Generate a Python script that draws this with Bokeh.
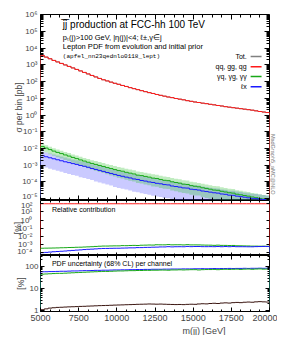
import math
from bokeh.plotting import figure
from bokeh.models import (Range1d, FixedTicker, LogAxis, LinearAxis, Label, Title,
                          BoxAnnotation, CustomJSTickFormatter)
from bokeh.layouts import column
from bokeh.embed import file_html
from bokeh.resources import INLINE

FONT = "Liberation Sans"

# ---------------- data ----------------
m_edges = [5000 + 250 * i for i in range(61)]          # bin edges, GeV
x_ticks = [5000, 7500, 10000, 12500, 15000, 17500, 20000]

# sigma per bin [pb]
qq = [3720, 2950, 2340, 1860, 1510, 1230, 1000, 813, 661, 537,
      437, 355, 288, 234, 191, 155, 129, 110, 93.3, 79.4,
      69.2, 58.9, 51.3, 43.7, 38.0, 33.1, 28.8, 25.1, 21.9, 19.5,
      17.0, 15.1, 13.5, 12.0, 11.0, 9.77, 8.91, 8.13, 7.24, 6.61,
      6.03, 5.62, 5.13, 4.79, 4.37, 4.07, 3.72, 3.47, 3.16, 2.95,
      2.75, 2.57, 2.40, 2.24, 2.09, 1.95, 1.78, 1.62, 1.51, 1.41]
gq = [0.0129, 0.0105, 0.0085, 0.0069, 0.00575, 0.0049, 0.00407, 0.00347,
      0.00288, 0.00245, 0.00204, 0.00174, 0.00148, 0.00126, 0.0011, 0.00095,
      8.3e-4, 7.1e-4, 6.2e-4, 5.4e-4, 4.7e-4, 4.3e-4, 3.7e-4, 3.3e-4,
      2.95e-4, 2.5e-4, 2.35e-4, 2.1e-4, 1.9e-4, 1.66e-4, 1.58e-4, 1.38e-4,
      1.23e-4, 1.17e-4, 1.0e-4, 9.1e-5, 8.3e-5, 7.2e-5, 6.9e-5, 5.9e-5,
      5.4e-5, 5.0e-5, 4.4e-5, 4.0e-5, 3.6e-5, 3.2e-5, 3.1e-5, 2.7e-5,
      2.45e-5, 2.2e-5, 2.1e-5, 1.8e-5, 1.66e-5, 1.5e-5, 1.38e-5, 1.23e-5,
      1.12e-5, 1.0e-5, 9.3e-6, 8.5e-6]
lx = [3.7e-3, 3.16e-3, 2.75e-3, 2.4e-3, 2.09e-3, 1.82e-3, 1.58e-3, 1.41e-3,
      1.23e-3, 1.1e-3, 9.5e-4, 8.5e-4, 7.4e-4, 6.3e-4, 5.5e-4, 4.8e-4,
      4.2e-4, 3.6e-4, 3.16e-4, 2.75e-4, 2.4e-4, 2.14e-4, 1.9e-4, 1.7e-4,
      1.48e-4, 1.38e-4, 1.2e-4, 1.1e-4, 9.8e-5, 9.1e-5, 8.1e-5, 7.6e-5,
      6.8e-5, 6.5e-5, 5.6e-5, 5.2e-5, 4.8e-5, 4.3e-5, 4.2e-5, 3.6e-5,
      3.4e-5, 3.2e-5, 2.8e-5, 2.6e-5, 2.4e-5, 2.2e-5, 2.1e-5, 1.86e-5,
      1.78e-5, 1.58e-5, 1.55e-5, 1.38e-5, 1.29e-5, 1.2e-5, 1.1e-5, 1.02e-5,
      9.8e-6, 9.1e-6, 8.7e-6, 8.1e-6]

# PDF uncertainty (68% CL) [%]
tot_unc = [1.1, 1.2, 1.3, 1.35, 1.4, 1.42, 1.45, 1.48, 1.5, 1.52,
           1.55, 1.57, 1.6, 1.62, 1.65, 1.68, 1.7, 1.72, 1.75, 1.78,
           1.8, 1.82, 1.85, 1.87, 1.9, 1.93, 1.95, 1.97, 2.0, 1.98,
           1.96, 1.98, 1.95, 1.92, 1.9, 1.88, 1.9, 1.87, 1.92, 1.95,
           1.93, 2.0, 2.05, 2.02, 2.1, 2.15, 2.1, 2.2, 2.25, 2.2,
           2.3, 2.35, 2.3, 2.4, 2.45, 2.4, 2.5, 2.55, 2.5, 2.45]
gq_unc = [45, 46, 47, 48, 49, 49, 50, 51, 52, 53, 54, 55, 56, 57, 58, 59,
          60, 60, 61, 62, 63, 63, 64, 65, 65, 66, 66, 67, 67, 68, 68, 69,
          69, 68, 70, 70, 71, 70, 71, 72, 72, 70, 72, 73, 73, 74, 72, 74,
          75, 74, 75, 76, 74, 76, 77, 75, 77, 78, 76, 77]
lx_unc = [58, 58, 59, 59, 60, 61, 61, 62, 63, 63, 64, 65, 65, 66, 67, 67,
          68, 68, 69, 70, 70, 71, 71, 72, 72, 73, 73, 74, 74, 75, 75, 75,
          76, 76, 77, 77, 77, 78, 78, 78, 79, 79, 80, 79, 80, 81, 80, 81,
          81, 82, 81, 82, 82, 83, 82, 83, 83, 84, 83, 84]
# half-width of the l-x band drawn in the cross-section panel [%]
lx_band = [77, 77, 78, 78, 78, 78, 79, 79, 79, 79, 80, 80, 80, 80, 81, 81,
           81, 81, 81, 82, 82, 82, 82, 82, 83, 83, 83, 83, 83, 84, 84, 84,
           84, 84, 84, 85, 85, 85, 85, 85, 85, 86, 86, 86, 86, 86, 86, 86,
           87, 87, 87, 87, 87, 87, 87, 88, 88, 88, 88, 88]

RED, GREEN, BLUE, GREY = "#ff1a1a", "#18a818", "#1a1aff", "#808080"

tot = [a + b + c for a, b, c in zip(qq, gq, lx)]
rel_qq = [100 * a / t for a, t in zip(qq, tot)]
rel_gq = [100 * a / t for a, t in zip(gq, tot)]
rel_lx = [100 * a / t for a, t in zip(lx, tot)]


def outline(vals, floor):
    xs, ys = [m_edges[0]], [floor]
    for i, v in enumerate(vals):
        xs += [m_edges[i], m_edges[i + 1]]
        ys += [v, v]
    xs.append(m_edges[-1]); ys.append(floor)
    return xs, ys


def band(vals, unc):
    xs, lo, hi = [], [], []
    for i, (v, u) in enumerate(zip(vals, unc)):
        xs += [m_edges[i], m_edges[i + 1]]
        lo += [v * (1 - u / 100.0)] * 2
        hi += [v * (1 + u / 100.0)] * 2
    return xs, lo, hi


SUP = CustomJSTickFormatter(code="""
const s = {'0':'\u2070','1':'\u00b9','2':'\u00b2','3':'\u00b3','4':'\u2074','5':'\u2075',
           '6':'\u2076','7':'\u2077','8':'\u2078','9':'\u2079','-':'\u207b'};
const e = Math.round(Math.log10(tick));
return '10' + String(e).split('').map(c => s[c]).join('');
""")
PLAIN = CustomJSTickFormatter(code="return String(Math.round(tick));")
EMPTY = CustomJSTickFormatter(code="return '';")

x_range = Range1d(5000, 20000)
x_minor = [5000 + 625 * k for k in range(25)]


def make_fig(h, yr, top, bottom):
    p = figure(width=277, height=h, x_range=x_range, y_range=yr, y_axis_type="log",
               x_axis_location=None, y_axis_location=None,
               output_backend="svg", toolbar_location=None,
               min_border_left=40, min_border_right=6,
               min_border_top=top, min_border_bottom=bottom)
    p.xgrid.visible = False
    p.ygrid.visible = False
    p.outline_line_color = "black"
    p.outline_line_width = 1
    p.background_fill_color = "white"
    p.border_fill_color = "white"
    return p


def tick_style(ax, tin, tmin):
    ax.major_tick_in = tin; ax.major_tick_out = 0
    ax.minor_tick_in = tmin; ax.minor_tick_out = 0
    ax.axis_line_color = None


def mute(ax):
    ax.formatter = EMPTY
    ax.major_label_text_font_size = "0px"
    ax.major_label_standoff = 0


def add_axes(p, yr, yticks, yminor, yfmt, tin, tmin, xlabels, ylabel, y_standoff, ylab_standoff):
    # left: labelled
    ax = LogAxis(ticker=FixedTicker(ticks=yticks, minor_ticks=yminor))
    tick_style(ax, tin, tmin)
    ax.formatter = yfmt
    ax.major_label_text_font = FONT
    ax.major_label_text_font_size = "8px"
    ax.major_label_standoff = y_standoff
    ax.axis_label = ylabel
    ax.axis_label_text_font = FONT
    ax.axis_label_text_font_style = "normal"
    ax.axis_label_text_font_size = "8.5px"
    ax.axis_label_standoff = ylab_standoff
    p.add_layout(ax, "left")
    # right: mirrored ticks pinned on the frame edge
    ax = LogAxis(ticker=FixedTicker(ticks=yticks, minor_ticks=yminor), fixed_location=x_range.end)
    tick_style(ax, tin, tmin); mute(ax)
    p.add_layout(ax, "right")
    # bottom
    ax = LinearAxis(ticker=FixedTicker(ticks=x_ticks, minor_ticks=x_minor))
    tick_style(ax, tin, tmin)
    if xlabels:
        ax.formatter = PLAIN
        ax.major_label_text_font = FONT
        ax.major_label_text_font_size = "9px"
        ax.major_label_standoff = 3
    else:
        ax.fixed_location = yr.start
        mute(ax)
    p.add_layout(ax, "below")
    # top
    ax = LinearAxis(ticker=FixedTicker(ticks=x_ticks, minor_ticks=x_minor), fixed_location=yr.end)
    tick_style(ax, tin, tmin); mute(ax)
    p.add_layout(ax, "above")


def lbl(p, x, y, text, size, color="black", align="left", font=FONT, angle=0):
    p.add_layout(Label(x=x, y=y, text=text, text_font=font, text_font_size=size,
                       text_color=color, text_align=align, text_baseline="middle",
                       angle=angle))


# ---------------- main panel ----------------
yr1 = Range1d(10 ** -5.12, 10 ** 6.02)
p1 = make_fig(200, yr1, 14, 0)
add_axes(p1, yr1, [10.0 ** e for e in range(-5, 7)],
         [k * 10.0 ** e for e in range(-6, 7) for k in range(2, 10)],
         SUP, 5, 3, False, "\u03c3 per bin [pb]", 3, -5)

bx, blo, bhi = band(lx, lx_band)
p1.varea(x=bx, y1=blo, y2=bhi, fill_color="#5050ff", fill_alpha=0.3)
gx, glo, ghi = band(gq, gq_unc)
p1.varea(x=gx, y1=glo, y2=ghi, fill_color="#30c030", fill_alpha=0.3)
rx, rlo, rhi = band(qq, tot_unc)
p1.varea(x=rx, y1=rlo, y2=rhi, fill_color="#ff8080", fill_alpha=0.4)

FL = 1e-9
xs, ys = outline(tot, FL); p1.line(xs, ys, line_color=GREY, line_width=1)
xs, ys = outline(qq, FL); p1.line(xs, ys, line_color=RED, line_width=1)
xs, ys = outline(gq, FL); p1.line(xs, ys, line_color=GREEN, line_width=1)
xs, ys = outline(lx, FL); p1.line(xs, ys, line_color=BLUE, line_width=1)

lbl(p1, 6464, 10 ** 5.42, "j\u0305j\u0305 production at FCC-hh 100 TeV", "10px")
lbl(p1, 6464, 10 ** 4.64, "p\u209c(j)>100 GeV, |\u03b7(j)|<4;  \u2113\u00b1,\u03b3\u2208j", "7.5px")
lbl(p1, 6464, 10 ** 4.12, "Lepton PDF from evolution and initial prior", "7.5px")
lbl(p1, 6464, 10 ** 3.52, "(apfel_nn23qednlo0118_lept)", "6px", font="Liberation Mono")

leg = [("Tot.", GREY, 3.505), ("qq, gg, qg", RED, 2.89),
       ("\u03b3q, \u03b3g, \u03b3\u03b3", GREEN, 2.31), ("\u2113x", BLUE, 1.69)]
for txt, col, ly in leg:
    lbl(p1, 18504, 10 ** ly, txt, "7px", align="right")
    p1.add_layout(BoxAnnotation(left=18764, right=19480, bottom=10 ** (ly - 0.045),
                                top=10 ** (ly + 0.045), fill_color=col, fill_alpha=1,
                                line_color=None))

p1.add_layout(Title(text="MadGraph5_aMC@NLO", align="right", offset=6, standoff=0,
                    text_font=FONT, text_font_size="5.5px", text_font_style="normal",
                    text_color="#777777"), "right")

# ---------------- relative contribution ----------------
yr2 = Range1d(10 ** -4.35, 10 ** 2.4)
p2 = make_fig(55, yr2, 0, 0)
add_axes(p2, yr2, [10.0 ** e for e in range(-4, 3)], [], SUP, 3, 2, False, "[%]", 8, -9)
FL2 = 1e-8
xs, ys = outline(rel_qq, FL2); p2.line(xs, ys, line_color=RED, line_width=1)
xs, ys = outline(rel_gq, FL2); p2.line(xs, ys, line_color=GREEN, line_width=1)
xs, ys = outline(rel_lx, FL2); p2.line(xs, ys, line_color=BLUE, line_width=1)
lbl(p2, 5748, 10 ** 1.295, "Relative contribution", "7px")

# ---------------- PDF uncertainty ----------------
yr3 = Range1d(10 ** -0.04, 10 ** 2.5)
p3 = make_fig(80, yr3, 0, 24)
add_axes(p3, yr3, [1, 10, 100],
         [k * 10.0 ** e for e in range(0, 3) for k in range(2, 10)],
         PLAIN, 4, 2, True, "[%]", 2, -4)
FL3 = 1e-3
xs, ys = outline(lx_unc, FL3); p3.line(xs, ys, line_color=BLUE, line_width=1)
xs, ys = outline(gq_unc, FL3); p3.line(xs, ys, line_color=GREEN, line_width=1)
xs, ys = outline(tot_unc, FL3); p3.line(xs, ys, line_color="#3a1510", line_width=1)
lbl(p3, 5748, 10 ** 2.15, "PDF uncertainty (68% CL) per channel", "7px")
p3.add_layout(Title(text="m(jj) [GeV]", align="right", offset=44, standoff=0,
                    text_font=FONT, text_font_size="9px", text_font_style="normal"),
              "below")

layout = column(p1, p2, p3, spacing=0)
open("out.html", "w").write(file_html(layout, INLINE))
